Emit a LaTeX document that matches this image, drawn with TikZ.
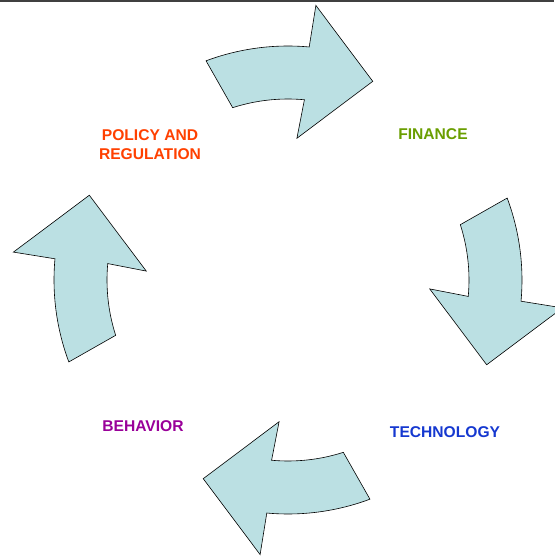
\documentclass[tikz,border=0pt]{standalone}
\usepackage{fontspec}
\setmainfont{Liberation Sans}
\usetikzlibrary{calc}

\definecolor{arrowfill}{HTML}{BBE0E3}
\definecolor{policycol}{HTML}{FF4000}
\definecolor{financecol}{HTML}{6A9E00}
\definecolor{techcol}{HTML}{1538D0}
\definecolor{behavcol}{HTML}{990099}

\begin{document}
\begin{tikzpicture}[x=1pt, y=1pt,
    cyclearrow/.style={draw=black, line width=0.6pt, fill=arrowfill, line join=miter},
    stagetext/.style={font=\bfseries\fontsize{15.6}{19}\selectfont, align=center}]
            \coordinate (NW) at (-288,280);
            \coordinate (SE) at (266,-276);
            \useasboundingbox (NW) rectangle (SE);
            \draw[line width=1.6pt, black!75] ($(NW)+(0,-0.8)$) -- ($(SE|-NW)+(0,-0.8)$);

            \foreach \turn in {0,1,2,3} {
                \begin{scope}[rotate=-90*\turn]
                    \draw[cyclearrow] (110.5:234pt) arc[start angle=110.5, end angle=84.8, radius=234pt]
                        -- (84.2:276pt) -- (66.9:216pt) -- (86.4:142pt) -- (84.8:181pt)
                        arc[start angle=84.8, end angle=107.8, radius=181pt] -- cycle;
                \end{scope}
            }

            \node[stagetext, text=policycol] (policy) at (-138,135.5) {POLICY AND\\REGULATION};
            \node[stagetext, text=financecol] (finance) at (145,146) {FINANCE};
            \node[stagetext, text=techcol] (technology) at (157,-152) {TECHNOLOGY};
            \node[stagetext, text=behavcol] (behavior) at (-145,-146) {BEHAVIOR};
        \end{tikzpicture}
\end{document}
